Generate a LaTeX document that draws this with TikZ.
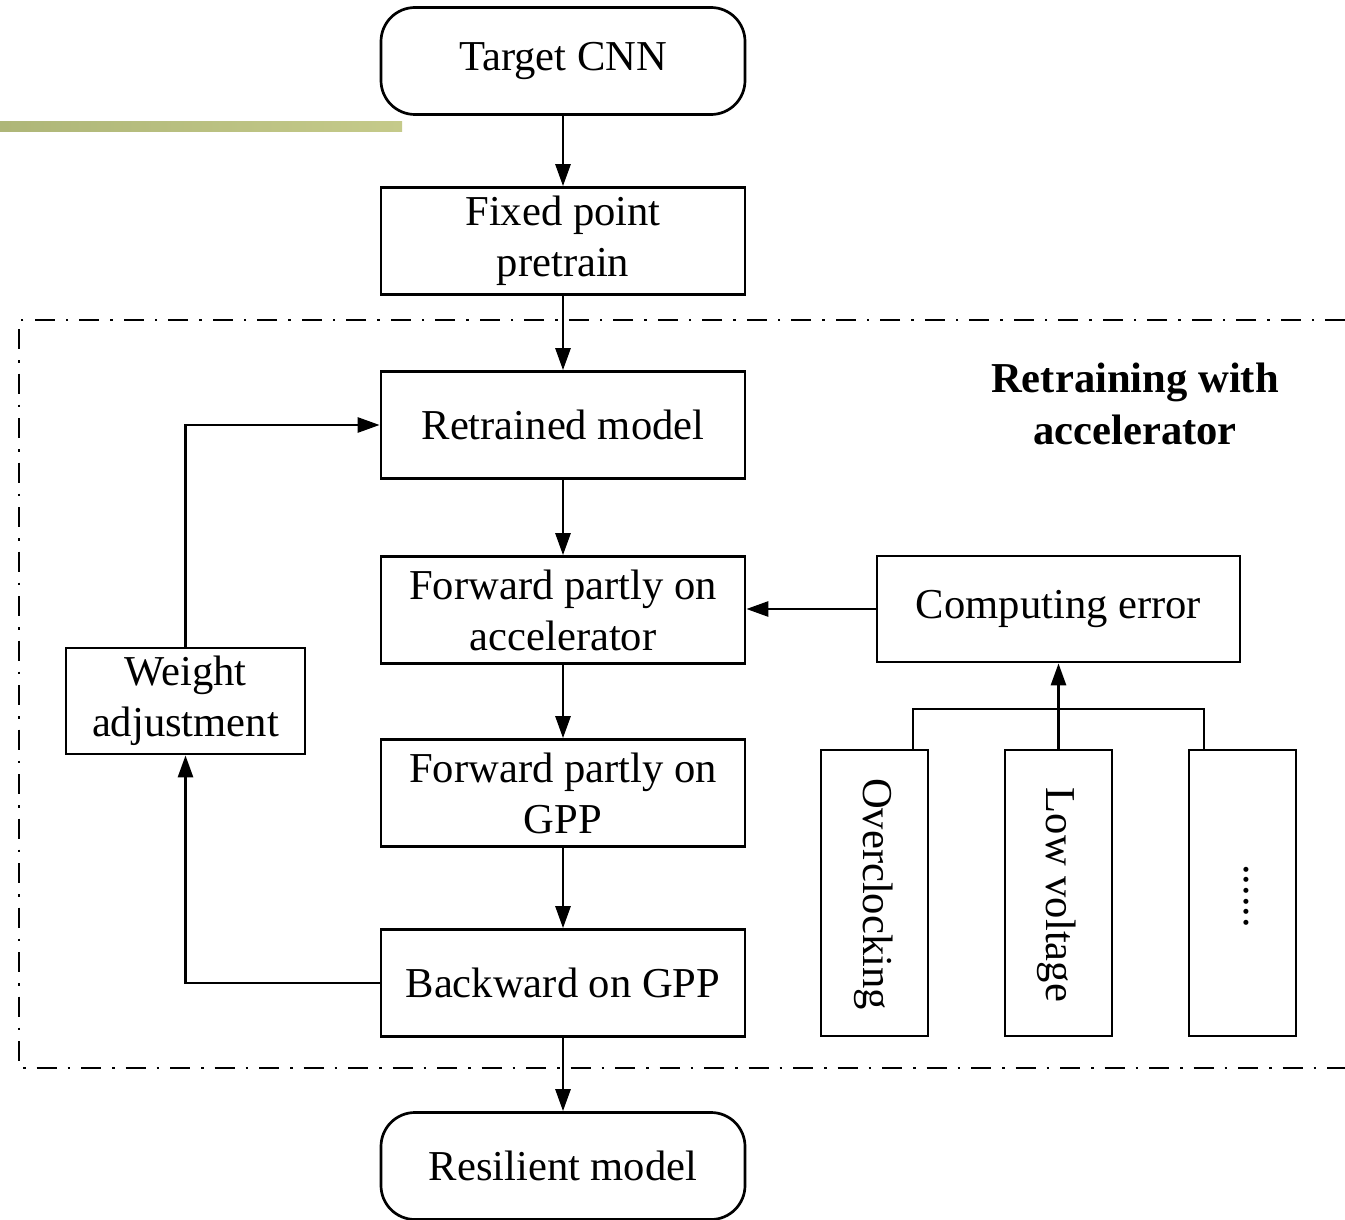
\documentclass[tikz,border=0pt]{standalone}
\usepackage{fontspec}
\setmainfont{Liberation Serif}
\usetikzlibrary{arrows.meta}
\tikzset{
  every node/.style={font=\fontsize{42.6}{51}\selectfont},
  box/.style={draw, line width=2.7pt, minimum width=364pt, minimum height=107pt, align=center, inner sep=0pt},
  rbox/.style={box, rounded corners=34pt},
  vbox/.style={draw, line width=2.7pt, minimum width=107pt, minimum height=286pt, inner sep=0pt},
  vlabel/.style={rotate=-90, anchor=base, inner sep=0pt},
  conn/.style={line width=2.7pt},
  arr/.style={conn, -{Triangle[length=22pt,width=15pt]}},
  frame/.style={line width=2.2pt, dash pattern=on 20pt off 11pt on 2.5pt off 11pt}
}
\begin{document}
\begin{tikzpicture}[x=1pt,y=-1pt]
\useasboundingbox (0,0) rectangle (1345,1220);
% green bar
\shade[left color={rgb,255:red,174;green,182;blue,120}, right color={rgb,255:red,197;green,202;blue,138}] (0,122) rectangle (402,132);
% frame
\draw[frame] (1345,320) -- (19,320) -- (19,1068) -- (1345,1068);
% main column
\node[rbox] (tcnn) at (563,61) {Target CNN};
\node[box] (fpp) at (563,241) {Fixed point\\pretrain};
\node[box] (rm) at (563,425) {Retrained model};
\node[box] (fpa) at (563,610) {Forward partly on\\accelerator};
\node[box] (fpg) at (563,793) {Forward partly on\\GPP};
\node[box] (bwd) at (563,983) {Backward on GPP};
\node[rbox] (res) at (563,1166) {Resilient model};
% side
\node[box, minimum width=239pt, minimum height=106pt] (wa) at (185.5,701) {Weight\\adjustment};
\node[box, minimum width=363pt, minimum height=106pt] (ce) at (1058.5,609) {Computing error};
\node[vbox] (oc) at (874.5,893) {};
\node[vbox] (lv) at (1058.5,893) {};
\node[vbox] (dt) at (1242.5,893) {};
\node[vlabel] (oct) at (863,894) {Overclocking};
\node[vlabel] (lvt) at (1046,895) {Low voltage};
\node[vlabel] (dtt) at (1244,896) {......};
% title
\node[font=\fontsize{42.6}{52}\selectfont\bfseries, align=center] (title) at (1135,404) {Retraining with\\accelerator};
% connectors
\draw[arr] (tcnn) -- (fpp);
\draw[arr] (fpp) -- (rm);
\draw[arr] (rm) -- (fpa);
\draw[arr] (fpa) -- (fpg);
\draw[arr] (fpg) -- (bwd);
\draw[arr] (bwd) -- (res);
\draw[arr] (bwd.west) -| (wa.south);
\draw[arr] (wa.north) |- (rm.west);
\draw[arr] (ce.west) -- (ce.west -| fpa.east);
\coordinate (b1) at (913,709);
\coordinate (b3) at (1204,709);
\draw[conn] (oc.north -| b1) -- (b1) -- (b3) -- (dt.north -| b3);
\draw[arr] (lv.north) -- (ce.south);
\end{tikzpicture}
\end{document}
